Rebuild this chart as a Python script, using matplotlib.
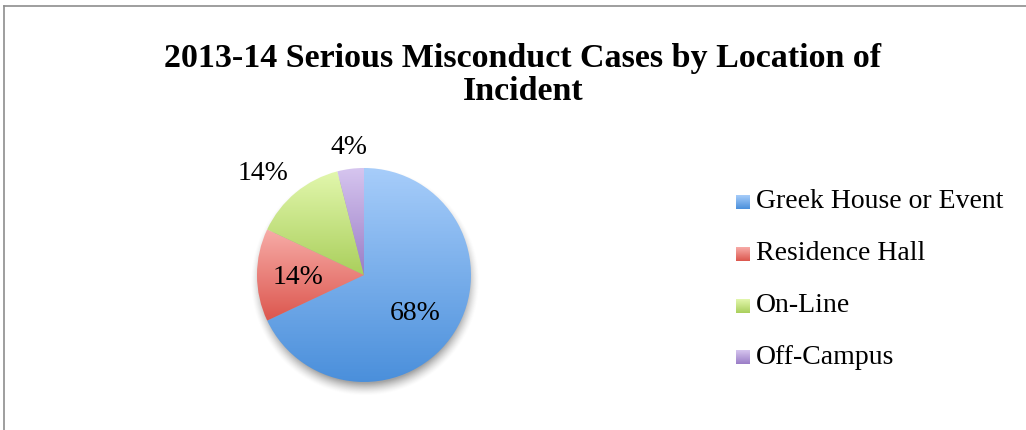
import numpy as np
import matplotlib
matplotlib.use('Agg')
import matplotlib.pyplot as plt
from matplotlib.colors import LinearSegmentedColormap
from matplotlib.lines import Line2D

# Cases by location of incident (percent of total)
locations = ['Greek House or Event', 'Residence Hall', 'On-Line', 'Off-Campus']
shares = [68, 14, 14, 4]
# light (top) and dark (bottom) tone of each slice
tops = ['#a7cdfa', '#f7aca8', '#e2f7ad', '#d6c5ef']
bottoms = ['#4a8fdb', '#dc564d', '#aacf5c', '#9a7dc6']
# percent label placement: radius and angle shift from the slice middle
label_dist = [0.59, 0.62, 1.34, 1.21]
label_shift = [-3.6, 1.0, 5.0, -0.6]

W, H = 1026, 431
fig = plt.figure(figsize=(W / 100, H / 100), dpi=100)
fig.patch.set_facecolor('white')

# Outer chart border (top and left edges visible)
fig.add_artist(Line2D([4 / W, 1], [1 - 7 / H, 1 - 7 / H], color='#8e8e8e', lw=1.2))
fig.add_artist(Line2D([4 / W, 4 / W], [0, 1 - 7 / H], color='#8e8e8e', lw=1.2))

fig.text(523 / W, 1 - 75 / H, '2013-14 Serious Misconduct Cases by Location of\nIncident',
         ha='center', va='center', fontsize=24.5, fontweight='bold',
         family='Liberation Serif', linespacing=1.05)

# Pie axes: center (364, 276), radius 107 px, limits +-1.25
cx, cy, r = 364, 276, 107
lim = 1.25
half = r * lim
ax = fig.add_axes([(cx - half) / W, (H - cy - half) / H, 2 * half / W, 2 * half / H])
ax.axis('off')

# Soft drop shadow under the pie
g = np.linspace(-lim, lim, 400)
xx, yy = np.meshgrid(g, g)
d = np.hypot(xx - 0.01, yy + 0.06)
alpha = np.clip((1.07 - d) / 0.12, 0, 1) ** 1.5 * 0.55
shadow = np.zeros((400, 400, 4))
shadow[..., :3] = 0.35
shadow[..., 3] = alpha
ax.imshow(shadow, extent=[-lim, lim, -lim, lim], origin='lower', zorder=0)

wedges, _ = ax.pie(shares, startangle=90, counterclock=False, radius=1,
                   wedgeprops=dict(linewidth=0, edgecolor='none'))
ax.set_xlim(-lim, lim)
ax.set_ylim(-lim, lim)

grad = np.linspace(0, 1, 256).reshape(-1, 1)
for w, top, bot, pct, dist, shift in zip(wedges, tops, bottoms, shares,
                                         label_dist, label_shift):
    w.set_facecolor('none')
    # vertical gradient over the slice's own extent
    verts = w.get_patch_transform().transform(w.get_path().vertices)
    y0, y1 = verts[:, 1].min(), verts[:, 1].max()
    x0, x1 = verts[:, 0].min(), verts[:, 0].max()
    cmap = LinearSegmentedColormap.from_list('s', [bot, top])
    im = ax.imshow(grad, cmap=cmap, extent=[x0, x1, y0, y1], origin='lower',
                   aspect='auto', zorder=2)
    im.set_clip_path(w)
    ang = np.deg2rad((w.theta1 + w.theta2) / 2 + shift)
    ax.text(dist * np.cos(ang), dist * np.sin(ang), f'{pct}%', ha='center', va='center',
            fontsize=20, family='Liberation Serif', color='black', zorder=3)

# Legend with small gradient squares
for i, (name, top, bot) in enumerate(zip(locations, tops, bottoms)):
    ly = 203 + i * 51.8
    lax = fig.add_axes([736 / W, 1 - (ly + 7) / H, 14 / W, 14 / H])
    lax.imshow(grad, cmap=LinearSegmentedColormap.from_list('l', [bot, top]),
               origin='lower', aspect='auto')
    lax.axis('off')
    fig.text(756 / W, 1 - (ly - 1) / H, name, ha='left', va='center', fontsize=20,
             family='Liberation Serif')

fig.savefig('out.png', dpi=100)
